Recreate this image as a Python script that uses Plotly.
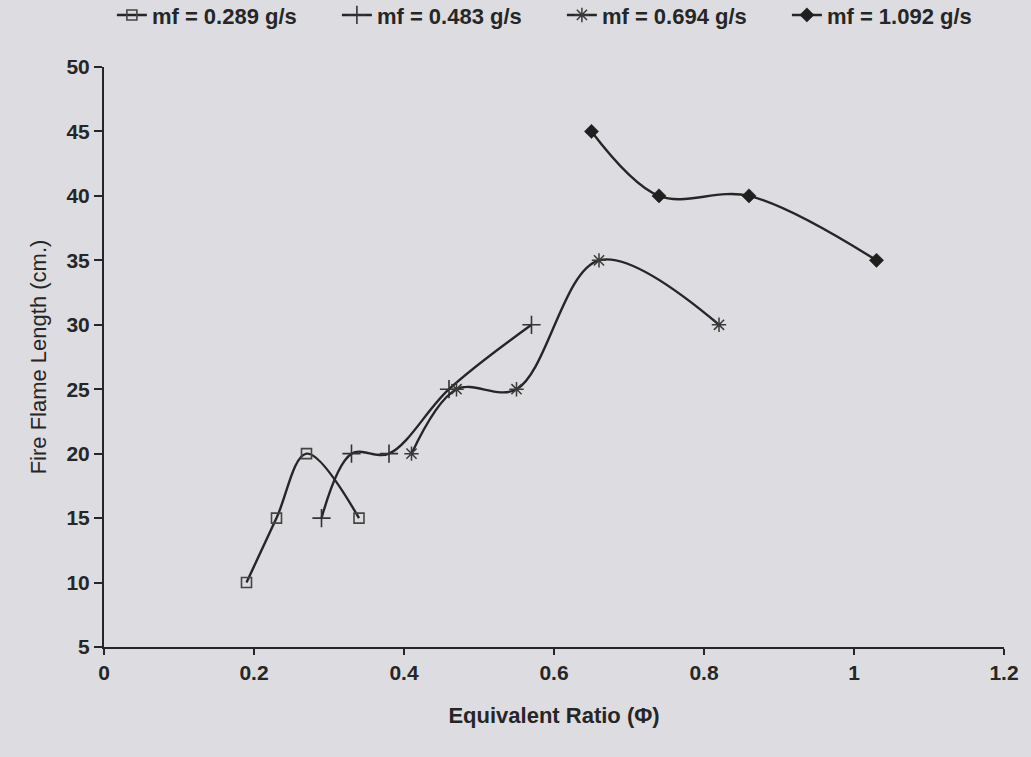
import plotly.graph_objects as go

# Equivalent ratio (phi) and fire flame length (cm) for each fuel mass flow rate
phi_0289 = [0.19, 0.23, 0.27, 0.34]
len_0289 = [10, 15, 20, 15]

phi_0483 = [0.29, 0.33, 0.38, 0.46, 0.57]
len_0483 = [15, 20, 20, 25, 30]

phi_0694 = [0.41, 0.47, 0.55, 0.66, 0.82]
len_0694 = [20, 25, 25, 35, 30]

phi_1092 = [0.65, 0.74, 0.86, 1.03]
len_1092 = [45, 40, 40, 35]

series_names = ["mf = 0.289 g/s", "mf = 0.483 g/s", "mf = 0.694 g/s", "mf = 1.092 g/s"]

x_ticks = [0, 0.2, 0.4, 0.6, 0.8, 1, 1.2]
x_tick_text = ["0", "0.2", "0.4", "0.6", "0.8", "1", "1.2"]
y_ticks = [5, 10, 15, 20, 25, 30, 35, 40, 45, 50]

BG = "#dddde1"
INK = "#262626"
FONT = "Liberation Sans, Arial, sans-serif"

fig = go.Figure()

styles = [
    dict(symbol="square-open", size=10, color="#444444", line=dict(width=1.6, color="#444444")),
    dict(symbol="cross-thin-open", size=13, color="#333333", line=dict(width=1.6, color="#333333")),
    dict(symbol="asterisk-open", size=12, color="#3a3a3a", line=dict(width=1.5, color="#3a3a3a")),
    dict(symbol="diamond", size=11, color="#1f1f1f", line=dict(width=0.5, color="#1f1f1f")),
]

data = [
    (phi_0289, len_0289),
    (phi_0483, len_0483),
    (phi_0694, len_0694),
    (phi_1092, len_1092),
]

for (xs, ys), name, mk in zip(data, series_names, styles):
    fig.add_trace(go.Scatter(
        x=xs, y=ys, name=name,
        mode="lines+markers",
        line=dict(color=INK, width=2.4, shape="spline", smoothing=1.0),
        marker=mk,
    ))

fig.update_layout(
    width=1031, height=757,
    paper_bgcolor=BG, plot_bgcolor=BG,
    margin=dict(l=104, r=22, t=67, b=110),
    font=dict(family=FONT, color=INK),
    showlegend=True,
    legend=dict(
        orientation="h", xref="container", x=0.545, xanchor="center",
        yref="container", y=0.98, yanchor="middle",
        bgcolor="rgba(0,0,0,0)",
        font=dict(size=22, family=FONT, color=INK, weight="bold"),
        itemwidth=30, entrywidth=180, entrywidthmode="pixels",
    ),
)

fig.update_xaxes(
    range=[0, 1.2], tickvals=x_ticks, ticktext=x_tick_text,
    showgrid=False, zeroline=False,
    showline=True, linecolor=INK, linewidth=2,
    ticks="outside", ticklen=6, tickwidth=1.5, tickcolor=INK,
    tickfont=dict(size=21, family=FONT, color=INK, weight="bold"),
    title=dict(text="Equivalent Ratio (\u03a6)", standoff=24,
               font=dict(size=22, family=FONT, color=INK, weight="bold")),
)
fig.update_yaxes(
    range=[5, 50], tickvals=y_ticks,
    showgrid=False, zeroline=False,
    showline=True, linecolor=INK, linewidth=2,
    ticks="outside", ticklen=8, tickwidth=1.5, tickcolor=INK,
    tickfont=dict(size=21, family=FONT, color=INK, weight="bold"),
    title=dict(text="Fire Flame Length (cm.)", standoff=14,
               font=dict(size=22, family=FONT, color=INK)),
)

fig.write_html("out.html")
